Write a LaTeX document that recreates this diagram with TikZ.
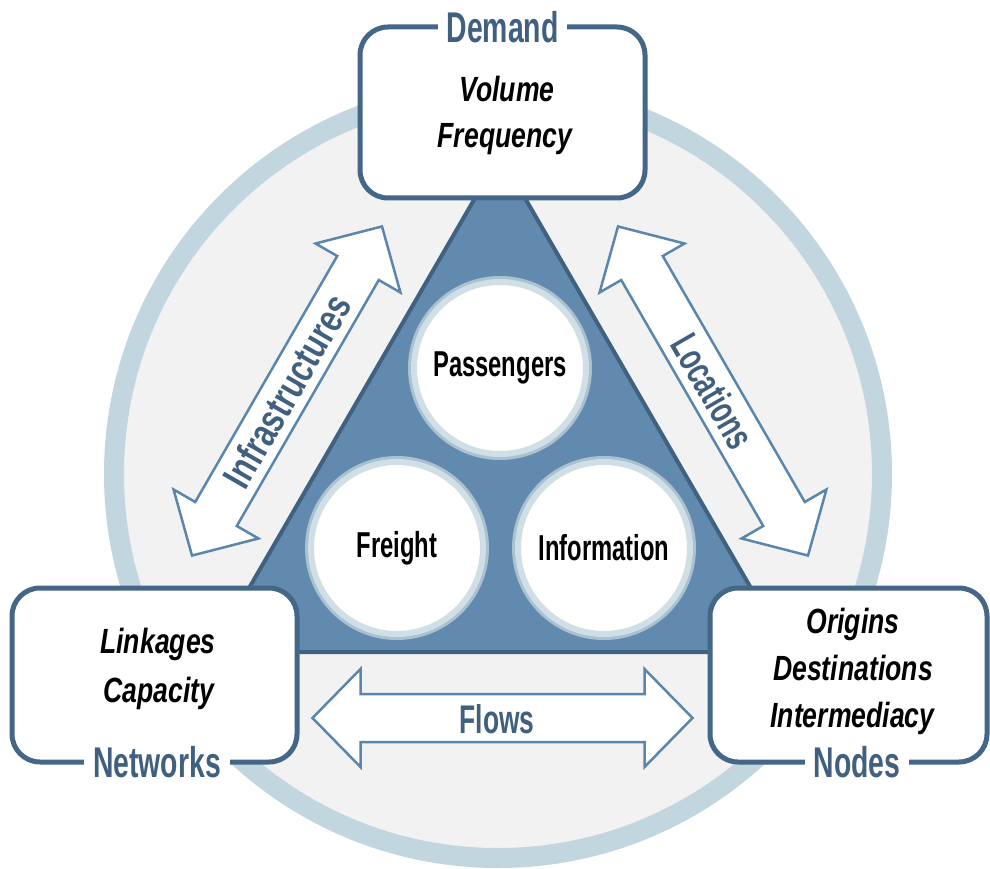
\documentclass[tikz,border=0pt]{standalone}
\usepackage{fontspec}
\newfontfamily\agency{Liberation Sans}[FakeStretch=0.66]
\newfontfamily\agencywide{Liberation Sans}[FakeStretch=0.76]
\newfontfamily\agencyit{Liberation Sans}[FakeStretch=0.76]
\definecolor{ringc}{HTML}{C1D6DE}
\definecolor{innerc}{HTML}{F2F2F2}
\definecolor{trifill}{HTML}{628AAE}
\definecolor{triborder}{HTML}{416180}
\definecolor{boxc}{HTML}{456787}
\definecolor{hdrc}{HTML}{41607F}
\definecolor{arrc}{HTML}{5A86AD}
\definecolor{cbouter}{HTML}{A9C1D1}
\definecolor{cbinner}{HTML}{D0DFE6}
\tikzset{
  hub/.style={circle, minimum size=172pt, inner sep=0pt, fill=white,
    draw=cbinner, line width=6pt, preaction={draw=cbouter, line width=12pt},
    font=\agency\bfseries\fontsize{36}{40}\selectfont, text=black},
  infobox/.style={draw=boxc, line width=5pt, fill=white, rounded corners=28pt,
    inner sep=0pt, outer sep=0pt},
  hdr/.style={fill=white, inner xsep=9pt, inner ysep=2pt, text=hdrc,
    font=\agency\bfseries\fontsize{43}{46}\selectfont},
  itemtxt/.style={anchor=base, inner sep=0pt, text=black,
    font=\agencyit\bfseries\itshape\fontsize{35}{40}\selectfont},
  arrtxt/.style={inner sep=0pt, text=hdrc,
    font=\agency\bfseries\fontsize{40}{44}\selectfont},
  pics/dblarrow/.style={code={
    \draw[draw=arrc, fill=white, line width=2.5pt, line join=miter]
      (-190,0) -- (-142,49) -- (-142,24) -- (142,24) -- (142,49) -- (190,0)
      -- (142,-49) -- (142,-24) -- (-142,-24) -- (-142,-49) -- cycle;
  }}
}
\begin{document}
\begin{tikzpicture}[x=1pt,y=-1pt]
\useasboundingbox (0,0) rectangle (990,869);
\fill[white] (0,0) rectangle (990,869);

% background ring
\draw[line width=20pt, draw=ringc, fill=innerc] (498,474) circle[radius=384];

% central triangle
\draw[fill=trifill, draw=triborder, line width=4pt, line join=round]
  (500,155) -- (788,652) -- (212,652) -- cycle;

% three circles
\node[hub] (pass) at (500,368) {Passengers};
\node[hub] (freight) at (397,548) {Freight};
\node[hub] (info) at (604,548) {Information};

% block arrows
\pic[rotate=60] at (287,391) {dblarrow};
\node[arrtxt, rotate=60, font=\agencywide\bfseries\fontsize{40}{44}\selectfont] (infra) at (287,391) {Infrastructures};

\pic[rotate=-60] at (713,391) {dblarrow};
\node[arrtxt, rotate=-60] (loc) at (713,391) {Locations};

\pic at (502.5,718) {dblarrow};
\node[arrtxt, anchor=base] (flows) at (497,733) {Flows};

% boxes
\node[infobox, minimum width=285pt, minimum height=171pt] (demand) at (502.5,112.5) {};
\node[hdr] (demandlbl) at (demand.north) {Demand};
\node[itemtxt] (volume) at (507,102) {Volume};
\node[itemtxt] (frequency) at (505,148) {Frequency};

\node[infobox, minimum width=285pt, minimum height=174pt] (networks) at (154.5,675) {};
\node[hdr] (networkslbl) at ([xshift=2.5pt]networks.south) {Networks};
\node[itemtxt] (linkages) at (158,653) {Linkages};
\node[itemtxt] (capacity) at (159,702) {Capacity};

\node[infobox, minimum width=277pt, minimum height=174pt] (nodes) at (848.5,675) {};
\node[hdr] (nodeslbl) at ([xshift=8.5pt]nodes.south) {Nodes};
\node[itemtxt] (origins) at (853,633) {Origins};
\node[itemtxt] (destinations) at (853,680) {Destinations};
\node[itemtxt] (intermediacy) at (852.5,727) {Intermediacy};
\end{tikzpicture}
\end{document}
